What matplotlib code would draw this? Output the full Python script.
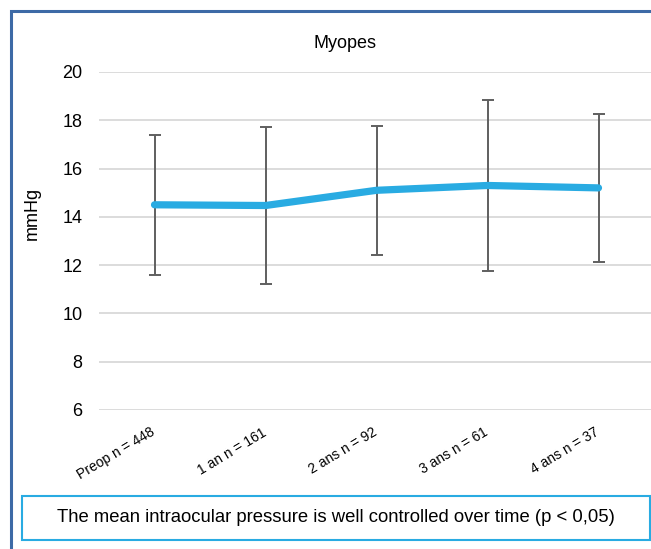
import matplotlib.pyplot as plt
import matplotlib.transforms as mtransforms
from matplotlib.patches import Rectangle

plt.rcParams['font.family'] = ['Liberation Sans', 'DejaVu Sans']

# Données
categories = ["Preop n = 448", "1 an n = 161", "2 ans n = 92", "3 ans n = 61", "4 ans n = 37"]
mean_iop = [14.5, 14.47, 15.1, 15.3, 15.2]
sd_iop = [2.9, 3.25, 2.67, 3.55, 3.05]
y_ticks = [6, 8, 10, 12, 14, 16, 18, 20]

W, H = 651, 549
fig = plt.figure(figsize=(W / 100, H / 100), dpi=100)

def fx(px):
    return px / W

def fy(py):
    return 1 - py / H

# Cadre bleu foncé autour du graphique
fig.patches.append(Rectangle((fx(11), fy(700)), fx(800), fy(11) - fy(700),
                             transform=fig.transFigure, fill=False,
                             edgecolor='#3d6aa6', linewidth=2.2))

ax = fig.add_axes([fx(99), fy(410), fx(654) - fx(99), fy(72) - fy(410)])
x = list(range(len(categories)))

ax.errorbar(x, mean_iop, yerr=sd_iop, fmt='none', ecolor='#5f5f5f',
            elinewidth=1.4, capsize=4.5, capthick=1.4, zorder=2)
ax.plot(x, mean_iop, color='#29abe2', linewidth=5.2, solid_capstyle='round',
        solid_joinstyle='round', zorder=3)

ax.set_xlim(-0.5, len(categories) - 0.5)
ax.set_ylim(6, 20)
ax.set_yticks(y_ticks)
ax.set_yticklabels([str(v) for v in y_ticks], fontsize=13)
ax.grid(axis='y', color='#d9d9d9', linewidth=1.3, zorder=0)
for s in ax.spines.values():
    s.set_visible(False)
ax.tick_params(axis='y', length=0, pad=12)
ax.tick_params(axis='x', length=0, pad=11)
ax.set_xticks(x)
ax.set_xticklabels(categories, rotation=31, ha='right', va='top',
                   rotation_mode='anchor', fontsize=10)
shift = mtransforms.ScaledTranslation(-4 / 100, 0, fig.dpi_scale_trans)
for lbl in ax.get_xticklabels():
    lbl.set_transform(lbl.get_transform() + shift)

fig.text(fx(345), fy(44), "Myopes", ha='center', va='center', fontsize=13)
fig.text(fx(32), fy(213), "mmHg", ha='center', va='center', rotation=90, fontsize=13)

# Encadré de conclusion
fig.patches.append(Rectangle((fx(22), fy(540)), fx(650) - fx(22), fy(496) - fy(540),
                             transform=fig.transFigure, fill=False,
                             edgecolor='#29abe2', linewidth=1.5))
fig.text(fx(336), fy(518), "The mean intraocular pressure is well controlled over time (p < 0,05)",
         ha='center', va='center', fontsize=13.3)

fig.savefig('out.png', dpi=100)
